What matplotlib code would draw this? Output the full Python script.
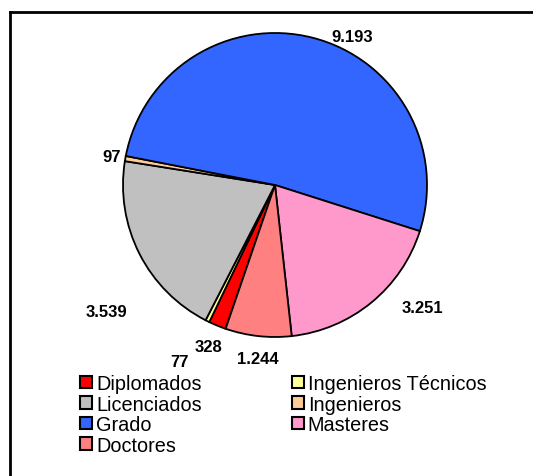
import numpy as np
import matplotlib
matplotlib.use("Agg")
import matplotlib.pyplot as plt
from matplotlib.lines import Line2D

plt.rcParams['font.family'] = ['Liberation Sans', 'DejaVu Sans']

# data (clockwise from the red slice)
categories = ["Diplomados", "Ingenieros Técnicos", "Licenciados", "Ingenieros",
              "Grado", "Masteres", "Doctores"]
values = [328, 77, 3539, 97, 9193, 3251, 1244]
value_labels = ["328", "77", "3.539", "97", "9.193", "3.251", "1.244"]
colors = ["#FF0000", "#FFFF99", "#C0C0C0", "#FFCC99", "#3366FF", "#FF99CC", "#FF8080"]

# label placement: angle nudge (deg) from wedge middle, radial distance
label_nudge = [0, -2, 10, 0, -13, 11, 0.7]
label_dist = [1.15, 1.32, 1.39, 1.09, 1.10, 1.26, 1.15]

W, H = 533, 477
fig = plt.figure(figsize=(W / 100, H / 100), dpi=100)

cx, cy, r = 275, 186, 152
ax = fig.add_axes([(cx - r) / W, (H - cy - r) / H, 2 * r / W, 2 * r / H])
wedges, _ = ax.pie(values, colors=colors, startangle=251.05, counterclock=False,
                   radius=1, wedgeprops=dict(edgecolor="black", linewidth=1.3))
ax.set_xlim(-1, 1)
ax.set_ylim(-1, 1)
ax.set_aspect("equal")
ax.axis("off")

for w, lab, dn, d in zip(wedges, value_labels, label_nudge, label_dist):
    mid = np.deg2rad((w.theta1 + w.theta2) / 2 + dn)
    ax.text(d * np.cos(mid), d * np.sin(mid), lab, ha="center", va="center",
            fontsize=12, fontweight="bold", clip_on=False)

# legend filled row-wise like the original
order = [0, 2, 4, 6, 1, 3, 5]
handles = [plt.Rectangle((0, 0), 1, 1, facecolor=colors[i], edgecolor="black", linewidth=1.5)
           for i in order]
fig.legend(handles, [categories[i] for i in order], ncol=2, frameon=False,
           loc="upper left", bbox_to_anchor=(80 / W, 1 - 375 / H),
           fontsize=14.3, borderpad=0, labelspacing=0.08, handlelength=0.6,
           handleheight=0.6, handletextpad=0.2, columnspacing=4.55, borderaxespad=0)

# outer frame (top and left edges visible)
fig.add_artist(Line2D([9.5 / W, 1.02], [1 - 12.5 / H] * 2, color="black", lw=2,
                      transform=fig.transFigure))
fig.add_artist(Line2D([9.5 / W] * 2, [1 - 12.5 / H, -0.02], color="black", lw=2,
                      transform=fig.transFigure))

fig.savefig("out.png", dpi=100)
